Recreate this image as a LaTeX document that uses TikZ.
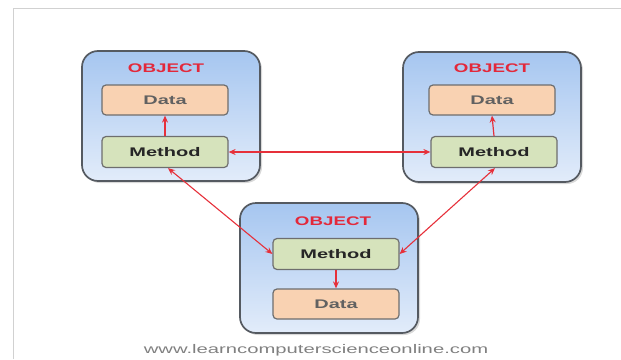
\documentclass[tikz,border=0pt]{standalone}
\usepackage{fontspec}
\setmainfont{Liberation Sans}
\usetikzlibrary{arrows.meta,shadows}
\definecolor{objred}{HTML}{E3283A}
\definecolor{arrowred}{HTML}{E6303A}
\definecolor{peach}{HTML}{F9D2B2}
\definecolor{sage}{HTML}{D6E3BC}
\definecolor{boxedge}{HTML}{6E6E6E}
\definecolor{outeredge}{HTML}{555A61}
\definecolor{bluetop}{HTML}{A6C6F0}
\definecolor{bluebot}{HTML}{E2ECFA}
\newcommand\stretchtxt[2]{\scalebox{#1}[1]{#2}}
\tikzset{
  objbox/.style={draw=outeredge, line width=1.7pt, rounded corners=16pt,
    top color=bluetop, bottom color=bluebot, minimum width=178pt, minimum height=130pt,
    drop shadow={shadow xshift=2pt, shadow yshift=-2pt, opacity=0.3}},
  databox/.style={draw=boxedge, line width=1.2pt, rounded corners=4pt, fill=peach,
    minimum width=126pt, minimum height=30pt, inner sep=0pt,
    font=\fontsize{12.5}{12.5}\selectfont\bfseries, text=black!62},
  methbox/.style={draw=boxedge, line width=1.2pt, rounded corners=4pt, fill=sage,
    minimum width=126pt, minimum height=31pt, inner sep=0pt,
    font=\fontsize{12.5}{12.5}\selectfont\bfseries, text=black!85},
  objlabel/.style={font=\fontsize{12.5}{12.5}\selectfont\bfseries, text=objred, inner sep=0pt},
  link/.style={draw=arrowred, line width=1.1pt, {Stealth[length=7pt,width=6pt]}-{Stealth[length=7pt,width=6pt]}},
  inner/.style={draw=arrowred, line width=1.2pt, -{Stealth[length=7pt,width=6pt]}},
  url/.style={font=\fontsize{12.5}{12.5}\selectfont, text=black!50, inner sep=0pt}
}
\begin{document}
\begin{tikzpicture}[x=1pt,y=-1pt]
\useasboundingbox (0,0) rectangle (621,359);
\draw[black!18, line width=1pt] (13,359) -- (13,8) -- (621,8);

% left object
\node[objbox] (o1) at (171,116) {};
\node[objlabel] (t1) at (166,68) {\stretchtxt{1.5}{OBJECT}};
\node[databox] (d1) at (165,100) {\stretchtxt{1.6}{Data}};
\node[methbox] (m1) at (165,152) {\stretchtxt{1.6}{Method}};

% right object
\node[objbox] (o2) at (492,117) {};
\node[objlabel] (t2) at (492,68) {\stretchtxt{1.5}{OBJECT}};
\node[databox] (d2) at (492,100) {\stretchtxt{1.6}{Data}};
\node[methbox] (m2) at (494,152) {\stretchtxt{1.6}{Method}};

% bottom object
\node[objbox] (o3) at (329,268) {};
\node[objlabel] (t3) at (333,221) {\stretchtxt{1.5}{OBJECT}};
\node[methbox] (m3) at (336,254) {\stretchtxt{1.6}{Method}};
\node[databox] (d3) at (336,304) {\stretchtxt{1.6}{Data}};

% inner arrows
\draw[inner] (m1.north) -- (d1.south);
\draw[inner] (m2.north) -- (d2.south);
\draw[inner] (m3.south) -- (d3.north);

% links
\draw[link] (m1.east) -- (m2.west);
\draw[link] ([xshift=3pt]m1.south) -- (m3.west);
\draw[link] ([xshift=1pt]m2.south) -- (m3.east);

\node[url] (u) at (316,350) {\stretchtxt{1.62}{www.learncomputerscienceonline.com}};
\end{tikzpicture}
\end{document}
